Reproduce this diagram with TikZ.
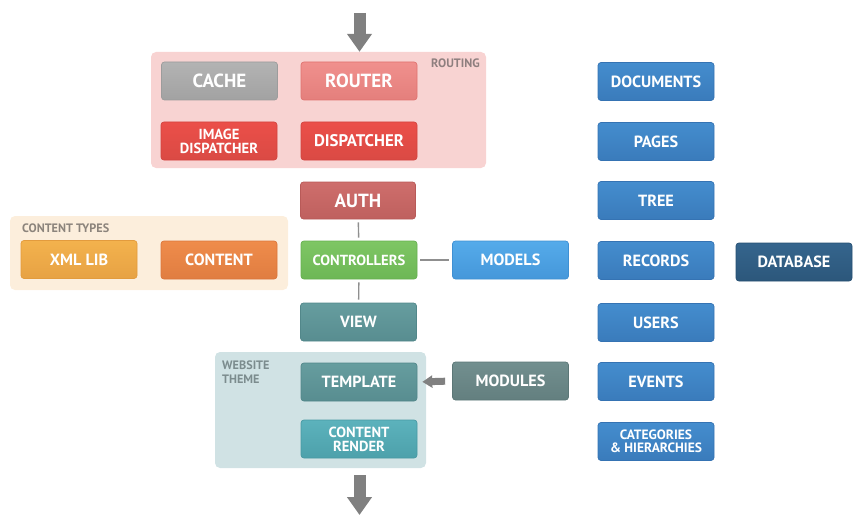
\documentclass[tikz,border=0pt]{standalone}
\usepackage{fontspec}
\setmainfont{PT Sans}
\usetikzlibrary{arrows.meta}
\definecolor{arrowgray}{HTML}{808080}
\definecolor{linegray}{HTML}{8F8F8F}
\definecolor{grpRout}{HTML}{F8D3D2}
\definecolor{grpCT}{HTML}{FCEEDC}
\definecolor{grpTh}{HTML}{D0E2E4}
\definecolor{lblRout}{HTML}{8E7F7F}
\definecolor{lblCT}{HTML}{8C847C}
\definecolor{lblTh}{HTML}{7C8C8E}
\definecolor{cacheT}{HTML}{B3B3B3}\definecolor{cacheB}{HTML}{A2A2A2}\definecolor{cacheD}{HTML}{9C9C9C}
\definecolor{routT}{HTML}{F0908D}\definecolor{routB}{HTML}{E47F7C}\definecolor{routD}{HTML}{E07370}
\definecolor{dispT}{HTML}{EB4F49}\definecolor{dispB}{HTML}{DA4A44}\definecolor{dispD}{HTML}{D2443F}
\definecolor{authT}{HTML}{CE6E6C}\definecolor{authB}{HTML}{BF605E}\definecolor{authD}{HTML}{B85A58}
\definecolor{xmlT}{HTML}{F3B24D}\definecolor{xmlB}{HTML}{E7A244}\definecolor{xmlD}{HTML}{E39B3D}
\definecolor{contT}{HTML}{EF8C4B}\definecolor{contB}{HTML}{E07D41}\definecolor{contD}{HTML}{DB763B}
\definecolor{ctrlT}{HTML}{7EC664}\definecolor{ctrlB}{HTML}{6DB756}\definecolor{ctrlD}{HTML}{66B050}
\definecolor{modT}{HTML}{55ABEA}\definecolor{modB}{HTML}{4597DA}\definecolor{modD}{HTML}{3F90D3}
\definecolor{viewT}{HTML}{669D9F}\definecolor{viewB}{HTML}{588D90}\definecolor{viewD}{HTML}{52878A}
\definecolor{mdlT}{HTML}{728F8F}\definecolor{mdlB}{HTML}{637F7F}\definecolor{mdlD}{HTML}{5C7777}
\definecolor{crT}{HTML}{5CB2BC}\definecolor{crB}{HTML}{4DA1AB}\definecolor{crD}{HTML}{4899A3}
\definecolor{bluT}{HTML}{448DCE}\definecolor{bluB}{HTML}{3A7BBB}\definecolor{bluD}{HTML}{3573B3}
\definecolor{dbT}{HTML}{35658D}\definecolor{dbB}{HTML}{2C577B}\definecolor{dbD}{HTML}{264F72}
\newcommand\fbig{\fontsize{19}{20}\selectfont\bfseries}
\newcommand\fmid{\fontsize{16.2}{17}\selectfont\bfseries}
\newcommand\fsmall{\fontsize{14.6}{14}\selectfont\bfseries}
\newcommand\fsmaller{\fontsize{13.5}{13}\selectfont\bfseries}
\newcommand\flabel{\fontsize{12.2}{14}\selectfont\bfseries}
\tikzset{
  box/.style={rounded corners=3pt, minimum width=116pt, minimum height=38pt,
    inner sep=0pt, text=white, align=center, line width=0.7pt, font=\fmid},
  grp/.style={rounded corners=5pt, inner sep=0pt},
  grplabel/.style={inner sep=0pt, font=\flabel, align=left},
  link/.style={draw=linegray, line width=1.4pt, shorten <=3pt, shorten >=3pt},
  bigarrow/.style={draw=arrowgray, line width=12pt, -{Triangle[length=18pt,width=24pt]}},
  smallarrow/.style={draw=arrowgray, line width=7pt, -{Triangle[length=10pt,width=12pt]}},
  blue/.style={box, top color=bluT, bottom color=bluB, draw=bluD},
}
\begin{document}
\begin{tikzpicture}[x=1pt,y=-1pt]
\useasboundingbox (0,0) rectangle (859,532);
% groups
\node[grp, fill=grpRout, minimum width=335pt, minimum height=116pt] (routing) at (318.5,110) {};
\node[grp, fill=grpCT, minimum width=278pt, minimum height=74pt] (ctypes) at (149,253) {};
\node[grp, fill=grpTh, minimum width=211pt, minimum height=116pt] (theme) at (320.5,410) {};
\node[grplabel, text=lblRout, anchor=east] (routinglbl) at (480,63) {ROUTING};
\node[grplabel, text=lblCT, anchor=west] (ctypeslbl) at (22,228) {CONTENT TYPES};
\node[grplabel, text=lblTh, anchor=north west] (themelbl) at (222,360.5) {WEBSITE\\THEME};
% routing boxes
\node[box, font=\fbig, top color=cacheT, bottom color=cacheB, draw=cacheD] (cache) at (219.5,81) {CACHE};
\node[box, font=\fbig, top color=routT, bottom color=routB, draw=routD] (router) at (359,81) {ROUTER};
\node[box, font=\fsmall, top color=dispT, bottom color=dispB, draw=dispD] (imgdisp) at (219,141) {IMAGE\\DISPATCHER};
\node[box, font=\fsmall, top color=dispT, bottom color=dispB, draw=dispD] (disp) at (359,141) {\fontsize{16.8}{17}\selectfont DISPATCHER};
% middle column
\node[box, font=\fbig, minimum width=115pt, minimum height=37pt, top color=authT, bottom color=authB, draw=authD] (auth) at (358,200.5) {AUTH};
\node[box, top color=xmlT, bottom color=xmlB, draw=xmlD] (xml) at (79,259.5) {XML LIB};
\node[box, top color=contT, bottom color=contB, draw=contD] (content) at (219,260) {CONTENT};
\node[box, font=\fsmall, top color=ctrlT, bottom color=ctrlB, draw=ctrlD] (ctrl) at (359,260) {CONTROLLERS};
\node[box, top color=modT, bottom color=modB, draw=modD] (models) at (510.5,260) {MODELS};
\node[box, top color=viewT, bottom color=viewB, draw=viewD] (view) at (358.5,322) {VIEW};
\node[box, top color=viewT, bottom color=viewB, draw=viewD] (template) at (359,382) {TEMPLATE};
\node[box, top color=mdlT, bottom color=mdlB, draw=mdlD] (modules) at (510.5,381) {MODULES};
\node[box, font=\fsmall, top color=crT, bottom color=crB, draw=crD] (crender) at (359,439) {CONTENT\\RENDER};
% right column
\node[blue] (documents) at (656,81.5) {DOCUMENTS};
\node[blue] (pages) at (656,141.5) {PAGES};
\node[blue] (tree) at (656,200.5) {TREE};
\node[blue] (records) at (656,260.5) {RECORDS};
\node[blue] (users) at (656,322.5) {USERS};
\node[blue] (events) at (656,381.5) {EVENTS};
\node[blue, font=\fsmaller] (categories) at (656,441.5) {CATEGORIES\\\& HIERARCHIES};
\node[box, top color=dbT, bottom color=dbB, draw=dbD] (database) at (794,262) {DATABASE};
% connectors
\draw[link] (auth) -- (ctrl);
\draw[link] (ctrl) -- (view);
\draw[link] (ctrl) -- (models);
\draw[smallarrow, shorten <=7pt, shorten >=5pt] (modules.west) -- (template.east);
\coordinate (entry) at (359.5,13);
\coordinate (exit) at (359.5,515);
\draw[bigarrow] (entry) -- (entry |- routing.north);
\draw[bigarrow, shorten <=7pt] (exit |- theme.south) -- (exit);
\end{tikzpicture}
\end{document}
